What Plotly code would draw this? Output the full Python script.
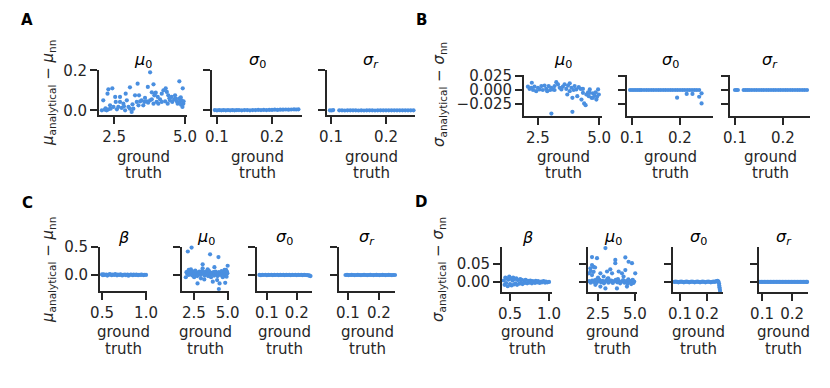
import plotly.graph_objects as go

W, H = 830, 388
OFF = 8  # page body margin of the browser; positions below are page pixels
BLUE = "#4a8fe0"
INK = "#262626"
FONT = "DejaVu Sans"
FS = 15

# ---------------- data (ground truth, analytical - nn) ----------------
A_mu0 = [(3.77,0.19),(3.33,0.133),(4.80,0.145),(4.92,0.11),(2.30,0.105),(2.44,0.11),(3.06,0.115),(3.69,0.117),(3.89,0.13),
         (2.12,0.05),(2.27,0.083),(2.54,0.067),(2.71,0.067),(2.91,0.083),(3.24,0.075),(3.38,0.075),(2.56,0.042),(2.71,0.042),
         (2.95,0.05),(2.36,0.025),(2.48,0.017),(2.65,0.017),(2.77,0.012),(3.01,0.017),(3.06,0.008),(2.07,0.0),(2.18,0.003),
         (2.24,0.0),(2.30,0.005),(2.38,0.008),(2.89,0.0),(3.12,-0.008),(3.18,0.008),(3.30,0.042),(3.42,0.045),(3.47,0.05),
         (3.57,0.042),(3.65,0.045),(3.70,0.038),(3.77,0.05),(3.83,0.055),(3.92,0.075),(3.97,0.088),(4.04,0.067),(4.12,0.055),
         (4.18,0.083),(4.24,0.1),(4.32,0.11),(4.36,0.092),(4.41,0.075),(4.18,0.042),(4.30,0.045),(4.39,0.033),(4.47,0.05),
         (4.55,0.042),(4.62,0.055),(4.67,0.058),(4.71,0.045),(4.74,0.033),(4.79,0.058),(4.82,0.042),(4.86,0.028),(4.88,0.05),
         (4.94,0.033),(4.91,0.017),(3.53,0.025),(3.36,0.025),(2.83,0.033),(3.89,0.033),(4.00,0.042),(4.06,0.033),(3.59,0.062),
         (4.53,0.067),(4.65,0.075),(3.83,0.09),(3.94,0.083),(2.20,0.01),(2.60,0.005),(2.85,0.02),(3.15,0.03),(4.45,0.06),
         (4.85,0.065),(4.95,0.045)]
A_sig0 = [(0.096,0.001),(0.100,0.0),(0.104,0.001),(0.108,0.0),(0.112,0.001),(0.116,0.0),(0.120,0.001),(0.124,0.0),(0.128,0.001),
          (0.132,0.0),(0.136,0.001),(0.140,0.001),(0.145,0.0),(0.150,0.001),(0.155,0.001),(0.160,0.0),(0.165,0.001),(0.170,0.001),
          (0.175,0.002),(0.180,0.001),(0.185,0.002),(0.190,0.001),(0.195,0.002),(0.200,0.002),(0.205,0.003),(0.210,0.002),
          (0.215,0.003),(0.220,0.003),(0.225,0.004),(0.230,0.003),(0.235,0.004),(0.240,0.005),(0.244,0.004),(0.248,0.005)]
A_sigr = [(0.098,0.0),(0.101,-0.001),(0.104,0.001),(0.115,0.0),(0.120,0.0),(0.125,-0.001),(0.130,0.0),(0.135,0.0),(0.140,0.0),
          (0.145,0.0),(0.150,-0.001),(0.155,0.0),(0.160,-0.001),(0.165,0.0),(0.170,0.0),(0.175,0.0),(0.180,-0.001),(0.185,0.0),
          (0.190,0.0),(0.195,0.0),(0.200,0.0),(0.205,0.0),(0.210,0.0),(0.215,0.0),(0.220,0.0),(0.225,0.0),(0.230,0.0),
          (0.235,0.0),(0.240,0.0),(0.245,0.0),(0.250,0.0)]

B_mu0 = [(3.46,0.028),(2.25,0.013),(2.09,0.006),(2.16,0.002),(2.30,0.0),(2.36,0.006),(2.43,-0.002),(2.50,0.004),(2.57,0.001),
         (2.64,0.007),(2.70,0.0),(2.77,0.008),(2.84,0.002),(2.94,0.007),(3.00,0.0),(3.05,0.004),(3.11,0.001),(3.18,0.007),
         (3.25,0.014),(3.32,0.010),(3.39,0.004),(3.46,0.001),(3.52,0.006),(3.59,0.010),(3.66,0.002),(3.70,-0.008),(3.73,0.008),
         (3.80,0.012),(3.87,0.004),(3.91,-0.014),(3.96,0.0),(4.00,0.007),(4.07,0.001),(4.11,-0.011),(4.17,0.005),(4.25,0.002),
         (4.28,-0.017),(4.34,-0.005),(4.39,-0.024),(4.45,-0.027),(4.48,-0.008),(4.55,-0.004),(4.58,-0.011),(4.62,0.001),
         (4.69,-0.014),(4.75,-0.006),(4.82,-0.010),(4.86,-0.004),(4.92,-0.012),(4.96,0.001),(4.99,-0.008),(3.05,-0.042),
         (3.91,-0.039),(4.62,-0.005),(4.75,-0.014),(4.89,-0.017),(4.34,0.002),(2.23,0.004),(3.18,0.0),(2.88,-0.002),(3.80,-0.002)]
B_sig0 = [(0.096,0.0),(0.100,0.0),(0.104,0.0),(0.108,0.0),(0.112,0.0),(0.116,0.0),(0.120,0.0),(0.125,0.0),(0.130,0.0),
          (0.135,0.0),(0.140,0.0),(0.145,0.0),(0.150,0.0),(0.155,0.0),(0.160,0.0),(0.165,0.0),(0.170,0.0),(0.175,0.0),
          (0.180,0.0),(0.185,0.0),(0.190,0.0),(0.195,0.0),(0.200,0.0),(0.205,0.0),(0.210,0.0),(0.215,0.0),(0.220,0.0),
          (0.225,0.0),(0.230,0.0),(0.235,0.0),(0.240,0.0),(0.194,-0.0137),(0.214,-0.007),(0.226,-0.007),(0.240,-0.012),
          (0.245,-0.006),(0.245,-0.024)]
B_sigr = [(0.100,0.0),(0.103,0.0),(0.106,0.0),(0.118,0.0),(0.122,0.0),(0.126,0.0),(0.130,0.0),(0.135,0.0),(0.140,0.0),
          (0.145,0.0),(0.150,0.0),(0.155,0.0),(0.160,0.0),(0.165,0.0),(0.170,0.0),(0.175,0.0),(0.180,0.0),(0.185,0.0),
          (0.190,0.0),(0.195,0.0),(0.200,0.0),(0.205,0.0),(0.210,0.0),(0.215,0.0),(0.220,0.0),(0.225,0.0),(0.230,0.0),
          (0.235,0.0),(0.240,0.0),(0.245,0.0),(0.250,0.0)]

C_beta = [(0.50,0.01),(0.51,-0.005),(0.52,0.012),(0.53,0.0),(0.55,0.008),(0.56,-0.01),(0.58,0.005),(0.59,0.015),(0.61,-0.004),
          (0.62,0.008),(0.64,0.002),(0.65,0.018),(0.67,-0.006),(0.68,0.006),(0.70,0.0),(0.71,0.01),(0.73,-0.008),(0.74,0.004),
          (0.76,0.008),(0.77,-0.002),(0.79,0.006),(0.80,-0.012),(0.82,0.004),(0.83,0.008),(0.85,-0.004),(0.86,0.005),
          (0.88,0.0),(0.89,0.006),(0.91,-0.003),(0.92,0.004),(0.94,0.002),(0.95,0.006),(0.97,-0.002),(0.98,0.003),(1.00,0.001)]
C_mu0 = [(2.33,0.49),(2.05,0.42),(3.70,0.37),(4.32,0.32),(3.15,0.19),(5.00,0.165),(3.15,0.12),(2.28,0.10),(3.52,0.10),
         (4.02,0.14),(4.77,0.09),(1.90,-0.04),(2.77,-0.15),(3.27,-0.08),(3.90,-0.12),(4.22,-0.09),(4.40,-0.15),(4.35,-0.25),
         (4.82,-0.14),(2.52,-0.04),(3.02,-0.06),(3.77,-0.04),(4.64,-0.04),
         (1.95,0.05),(2.00,0.02),(2.05,0.06),(2.10,0.0),(2.15,0.04),(2.20,0.07),(2.25,0.01),(2.30,0.05),(2.35,0.03),
         (2.40,-0.01),(2.45,0.06),(2.50,0.02),(2.55,0.04),(2.60,0.0),(2.65,0.05),(2.70,0.03),(2.75,-0.02),(2.80,0.04),
         (2.85,0.01),(2.90,0.06),(2.95,0.02),(3.00,0.0),(3.05,0.04),(3.10,0.07),(3.20,0.02),(3.25,0.05),(3.30,-0.01),
         (3.35,0.03),(3.40,0.06),(3.45,0.01),(3.50,0.04),(3.55,-0.02),(3.60,0.03),(3.65,0.05),(3.75,0.0),(3.80,0.04),
         (3.85,0.02),(3.95,0.05),(4.00,-0.01),(4.05,0.03),(4.10,0.06),(4.15,0.01),(4.20,0.04),(4.25,-0.02),(4.30,0.02),
         (4.35,0.05),(4.45,0.0),(4.50,0.03),(4.55,0.07),(4.60,0.01),(4.65,0.04),(4.70,-0.01),(4.75,0.03),(4.80,0.05),
         (4.85,0.0),(4.90,0.02),(4.95,0.06),(4.98,0.03),(4.92,-0.03),(4.88,0.09),(2.12,0.09),(2.60,0.08),(3.60,0.08)]
C_sig0 = [(0.075,0.002),(0.080,-0.004),(0.085,0.003),(0.090,0.0),(0.095,0.004),(0.100,-0.003),(0.105,0.002),(0.110,0.0),
          (0.115,0.003),(0.120,-0.002),(0.125,0.002),(0.130,0.0),(0.135,0.003),(0.140,-0.002),(0.145,0.001),(0.150,0.0),
          (0.155,0.002),(0.160,-0.002),(0.165,0.001),(0.170,0.0),(0.175,0.002),(0.180,-0.001),(0.185,0.001),(0.190,0.0),
          (0.195,0.002),(0.200,-0.001),(0.205,0.001),(0.210,0.0),(0.215,0.001),(0.220,-0.002),(0.225,0.001),(0.230,0.0),
          (0.235,-0.003),(0.240,-0.006),(0.243,-0.012),(0.246,-0.02)]
C_sigr = [(0.092,0.0),(0.097,0.001),(0.102,-0.001),(0.107,0.0),(0.112,0.001),(0.117,0.0),(0.122,-0.001),(0.127,0.0),
          (0.132,0.001),(0.137,0.0),(0.142,-0.001),(0.147,0.0),(0.152,0.001),(0.157,0.0),(0.162,-0.001),(0.167,0.0),
          (0.172,0.001),(0.177,0.0),(0.182,-0.001),(0.187,0.0),(0.192,0.001),(0.197,0.0),(0.202,-0.001),(0.207,0.0),
          (0.212,0.001),(0.217,0.0),(0.222,-0.001),(0.227,0.0),(0.232,0.001),(0.237,0.0),(0.242,-0.001),(0.247,0.0),(0.252,0.0)]

D_beta = [(0.42,0.004),(0.43,-0.008),(0.44,0.012),(0.45,-0.003),(0.46,0.009),(0.47,-0.012),(0.48,0.006),(0.49,0.015),
          (0.50,-0.006),(0.51,0.01),(0.52,-0.01),(0.53,0.004),(0.54,0.012),(0.55,-0.007),(0.56,0.008),(0.57,-0.004),
          (0.58,0.01),(0.59,-0.008),(0.60,0.005),(0.62,-0.005),(0.63,0.008),(0.64,-0.002),(0.65,0.006),(0.66,-0.006),
          (0.68,0.004),(0.69,-0.003),(0.70,0.006),(0.72,-0.004),(0.73,0.003),(0.75,-0.002),(0.76,0.004),(0.78,-0.004),
          (0.79,0.002),(0.80,0.0),(0.82,-0.003),(0.83,0.003),(0.85,-0.001),(0.86,0.002),(0.88,-0.003),(0.90,0.001),
          (0.91,-0.001),(0.93,0.002),(0.95,-0.002),(0.96,0.001),(0.98,-0.001),(1.00,0.0)]
D_mu0 = [(3.00,0.094),(2.43,0.066),(2.09,0.069),(3.67,0.061),(3.67,0.052),(4.35,0.068),(4.57,0.056),(4.80,0.052),
         (5.02,0.024),(2.09,0.047),(2.20,0.042),(1.98,0.038),(2.30,0.040),(1.87,0.024),(2.09,0.019),(2.66,0.024),
         (2.88,0.015),(3.11,0.029),(3.33,0.035),(3.45,0.024),(3.90,0.029),(4.12,0.024),(4.35,0.033),(4.23,0.015),
         (2.32,-0.008),(2.66,-0.013),(3.00,-0.018),(3.78,-0.018),(4.46,-0.013),(2.00,0.03),(2.20,0.028),(2.50,0.012),
         (3.20,0.01),
         (1.90,0.002),(2.00,-0.002),(2.10,0.004),(2.20,0.0),(2.30,0.005),(2.40,-0.003),(2.50,0.002),(2.60,0.006),
         (2.70,-0.001),(2.80,0.003),(2.90,-0.004),(3.00,0.002),(3.10,0.005),(3.20,-0.002),(3.30,0.001),(3.40,0.004),
         (3.50,-0.003),(3.60,0.002),(3.70,0.006),(3.80,-0.001),(3.90,0.003),(4.00,-0.004),(4.10,0.001),(4.20,0.005),
         (4.30,-0.002),(4.40,0.002),(4.50,-0.005),(4.60,0.003),(4.70,-0.001),(4.80,0.004),(4.90,-0.003),(4.95,0.001),
         (2.45,0.008),(3.15,0.009),(3.85,0.008),(4.55,0.007),(4.75,-0.006),(4.85,0.006)]
D_sig0 = [(0.079,0.0),(0.084,0.001),(0.089,0.0),(0.094,-0.001),(0.099,0.0),(0.104,0.001),(0.109,0.0),(0.114,-0.001),
          (0.119,0.0),(0.124,0.001),(0.129,0.0),(0.134,-0.001),(0.139,0.0),(0.144,0.001),(0.149,0.0),(0.154,-0.001),
          (0.159,0.0),(0.164,0.001),(0.169,0.0),(0.174,-0.001),(0.179,0.0),(0.184,0.001),(0.189,0.0),(0.194,-0.001),
          (0.199,0.0),(0.204,0.001),(0.209,0.0),(0.214,-0.001),(0.219,0.0),(0.224,0.001),(0.229,0.0),(0.234,0.002),
          (0.239,0.003),(0.242,0.001),(0.244,-0.004),(0.245,-0.01),(0.246,-0.015),(0.247,-0.02),(0.248,-0.025)]
D_sigr = [(0.093,0.0),(0.098,0.0),(0.103,0.0),(0.108,0.0),(0.113,0.0),(0.118,0.0),(0.123,0.0),(0.128,0.0),(0.133,0.0),
          (0.138,0.0),(0.143,0.0),(0.148,0.0),(0.153,0.0),(0.158,0.0),(0.163,0.0),(0.168,0.0),(0.173,0.0),(0.178,0.0),
          (0.183,0.0),(0.188,0.0),(0.193,0.0),(0.198,0.0),(0.203,0.0),(0.208,0.0),(0.213,0.0),(0.218,0.0),(0.223,0.0),
          (0.228,0.0),(0.233,0.0),(0.238,0.0),(0.243,0.0),(0.248,0.0),(0.250,0.0)]

# tick definitions
TICKS_MU0 = ([2.5, 5.0], ["2.5", "5.0"])
TICKS_SIG = ([0.1, 0.2], ["0.1", "0.2"])
TICKS_BETA = ([0.5, 1.0], ["0.5", "1.0"])
YT_A = ([0.0, 0.2], ["0.0", "0.2"])
YT_B = ([-0.025, 0.0, 0.025], ["\u22120.025", "0.000", "0.025"])
YT_C = ([0.0, 0.5], ["0.0", "0.5"])
YT_D = ([0.0, 0.05], ["0.00", "0.05"])

T_MU0 = "<i>μ</i><sub>0</sub>"
T_SIG0 = "<i>σ</i><sub>0</sub>"
T_SIGR = "<i>σ</i><sub><i>r</i></sub>"
T_BETA = "<i>β</i>"

# panel layout: (points, left, right, top, bottom, xrange, yrange, xticks, yticks, show y labels, title)
panels = [
    (A_mu0, 99, 187, 69.5, 115, [1.97, 5.07], [-0.0235, 0.204], TICKS_MU0, YT_A, True, T_MU0),
    (A_sig0, 212, 302, 69.5, 115, [0.091, 0.2545], [-0.0235, 0.204], TICKS_SIG, YT_A, False, T_SIG0),
    (A_sigr, 327, 415, 69.5, 115, [0.0927, 0.2527], [-0.0235, 0.204], TICKS_SIG, YT_A, False, T_SIGR),
    (B_mu0, 524, 602, 75, 116, [1.93, 5.12], [-0.0464, 0.0268], TICKS_MU0, YT_B, True, T_MU0),
    (B_sig0, 627, 713, 75, 116, [0.0896, 0.2688], [-0.0464, 0.0268], TICKS_SIG, YT_B, False, T_SIG0),
    (B_sigr, 730, 810, 75, 116, [0.0896, 0.2563], [-0.0464, 0.0268], TICKS_SIG, YT_B, False, T_SIGR),
    (C_beta, 100, 147, 247, 291, [0.477, 1.011], [-0.286, 0.5], TICKS_BETA, YT_C, True, T_BETA),
    (C_mu0, 182, 229, 247, 291, [1.62, 5.1], [-0.286, 0.5], TICKS_MU0, YT_C, False, T_MU0),
    (C_sig0, 257, 312, 247, 291, [0.067, 0.251], [-0.286, 0.5], TICKS_SIG, YT_C, False, T_SIG0),
    (C_sigr, 339, 395, 247, 291, [0.071, 0.252], [-0.286, 0.5], TICKS_SIG, YT_C, False, T_SIGR),
    (D_beta, 502, 552, 247, 292, [0.397, 1.038], [-0.028, 0.097], TICKS_BETA, YT_D, True, T_BETA),
    (D_mu0, 588, 637, 247, 292, [1.82, 5.14], [-0.028, 0.097], TICKS_MU0, YT_D, False, T_MU0),
    (D_sig0, 673, 723, 247, 292, [0.074, 0.259], [-0.028, 0.097], TICKS_SIG, YT_D, False, T_SIG0),
    (D_sigr, 759, 808, 247, 292, [0.09, 0.253], [-0.028, 0.097], TICKS_SIG, YT_D, False, T_SIGR),
]

def fx(px):
    return (px - OFF) / W

def fy(py):
    return 1 - (py - OFF) / H

fig = go.Figure()
layout = dict(width=W, height=H, margin=dict(l=0, r=0, t=0, b=0, pad=0, autoexpand=False),
              template="none",
              paper_bgcolor="white", plot_bgcolor="white", showlegend=False,
              font=dict(family=FONT, size=FS, color=INK))
annotations = []

for i, (pts, l, r, t, b, xr, yr, xt, yt, showy, title) in enumerate(panels, start=1):
    xs = [p[0] for p in pts]
    ys = [p[1] for p in pts]
    sfx = "" if i == 1 else str(i)
    fig.add_trace(go.Scatter(x=xs, y=ys, mode="markers", xaxis="x" + sfx, yaxis="y" + sfx,
                             marker=dict(size=4.2, color=BLUE, line=dict(width=0)),
                             cliponaxis=False, hoverinfo="skip"))
    common = dict(showline=True, linecolor=INK, linewidth=1.8, ticks="outside", ticklen=7,
                  tickwidth=1.6, tickcolor=INK, showgrid=False, zeroline=False, automargin=False,
                  tickfont=dict(family=FONT, size=FS, color=INK))
    layout["xaxis" + sfx] = dict(common, domain=[fx(l), fx(r)], range=xr, anchor="y" + sfx,
                                 tickvals=xt[0], ticktext=xt[1])
    layout["yaxis" + sfx] = dict(common, domain=[fy(b), fy(t)], range=yr, anchor="x" + sfx,
                                 tickvals=yt[0], ticktext=yt[1] if showy else [""] * len(yt[0]))
    cx = fx((l + r) / 2)
    ttl_y = 61 if t < 150 else 237
    g_y = 157 if t < 150 else 332
    tr_y = 173 if t < 150 else 349
    annotations.append(dict(text=title, x=cx, y=fy(ttl_y), xref="paper", yref="paper",
                            showarrow=False, xanchor="center", yanchor="middle",
                            font=dict(family=FONT, size=16, color="black")))
    for txt, yy in (("ground", g_y), ("truth", tr_y)):
        annotations.append(dict(text=txt, x=cx, y=fy(yy), xref="paper", yref="paper",
                                showarrow=False, xanchor="center", yanchor="middle",
                                font=dict(family=FONT, size=FS, color=INK)))

# y titles
for txt, xp, yp in (("<i>μ</i><sub>analytical</sub> − <i>μ</i><sub>nn</sub>", 48, 93),
                    ("<i>σ</i><sub>analytical</sub> − <i>σ</i><sub>nn</sub>", 440, 95),
                    ("<i>μ</i><sub>analytical</sub> − <i>μ</i><sub>nn</sub>", 48, 270),
                    ("<i>σ</i><sub>analytical</sub> − <i>σ</i><sub>nn</sub>", 438, 270)):
    annotations.append(dict(text=txt, x=fx(xp), y=fy(yp), xref="paper", yref="paper",
                            showarrow=False, xanchor="center", yanchor="middle", textangle=-90,
                            font=dict(family=FONT, size=FS, color=INK)))

# panel letters
for txt, xp, yp in (("A", 27, 20), ("B", 421, 20), ("C", 27, 203), ("D", 421, 202)):
    annotations.append(dict(text="<b>%s</b>" % txt, x=fx(xp), y=fy(yp), xref="paper", yref="paper",
                            showarrow=False, xanchor="center", yanchor="middle",
                            font=dict(family=FONT, size=15, color="black")))

layout["annotations"] = annotations
fig.update_layout(**layout)
fig.write_html("out.html")
